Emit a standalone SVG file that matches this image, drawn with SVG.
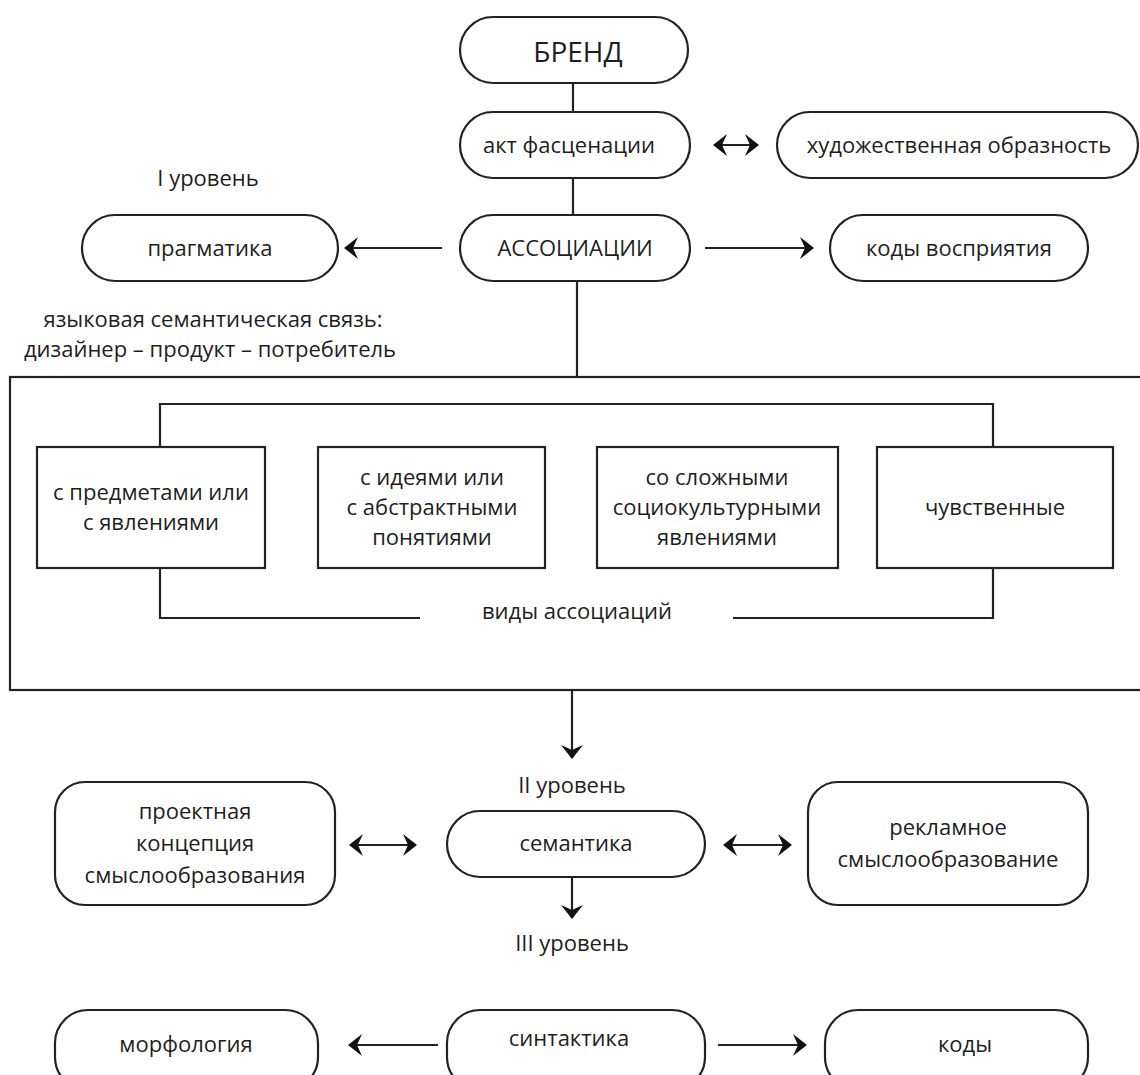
<svg xmlns="http://www.w3.org/2000/svg" width="1140" height="1075" viewBox="0 0 1140 1075">
<style>
.n{fill:#fff;stroke:#222;stroke-width:2.2}
.b{fill:none;stroke:#222;stroke-width:2.2}
.t{font-family:"Open Sans","Noto Sans",sans-serif;font-size:22px;fill:#1e1e1e;text-anchor:middle}
.l{fill:none;stroke:#222;stroke-width:2.2}
</style>
<defs>
<marker id="a" viewBox="0 0 14 22" refX="13" refY="11" markerWidth="14" markerHeight="22" markerUnits="userSpaceOnUse" orient="auto-start-reverse">
<path d="M0,0 L14,11 L0,22 L5,11 Z" fill="#111"/>
</marker>
</defs>
<rect width="1140" height="1075" fill="#fff"/>
<g id="association-types">
<rect class="b" x="10" y="377" width="1135" height="313"/>
<text class="t" x="577" y="619">виды ассоциаций</text>
</g>
<g id="connectors">
<line class="l" x1="573" y1="83" x2="573" y2="112"/>
<line class="l" x1="573" y1="178" x2="573" y2="215"/>
<line class="l" x1="577" y1="281" x2="577" y2="377"/>
<line class="l" x1="714" y1="145" x2="758" y2="145" marker-start="url(#a)" marker-end="url(#a)"/>
<line class="l" x1="442" y1="248" x2="345" y2="248" marker-end="url(#a)"/>
<line class="l" x1="705" y1="248" x2="813" y2="248" marker-end="url(#a)"/>
<polyline class="l" points="160,447 160,404 993,404 993,447"/>
<polyline class="l" points="420,618 160,618 160,568"/>
<polyline class="l" points="733,618 993,618 993,568"/>
<line class="l" x1="572" y1="690" x2="572" y2="758" marker-end="url(#a)"/>
<line class="l" x1="350" y1="845" x2="416" y2="845" marker-start="url(#a)" marker-end="url(#a)"/>
<line class="l" x1="724" y1="845" x2="791" y2="845" marker-start="url(#a)" marker-end="url(#a)"/>
<line class="l" x1="572" y1="877" x2="572" y2="918" marker-end="url(#a)"/>
<line class="l" x1="438" y1="1045" x2="349" y2="1045" marker-end="url(#a)"/>
<line class="l" x1="718" y1="1045" x2="806" y2="1045" marker-end="url(#a)"/>
</g>
<g id="brand"><rect class="n" x="460" y="17" width="228" height="66" rx="33"/><text class="t" x="578" y="62" style="font-size:28px">БРЕНД</text></g>
<g id="fascination"><rect class="n" x="460" y="112" width="230" height="66" rx="33"/><text class="t" x="569" y="153">акт фасценации</text></g>
<g id="imagery"><rect class="n" x="777" y="112" width="361" height="66" rx="33"/><text class="t" x="959" y="153">художественная образность</text></g>
<text class="t" x="208" y="186">I уровень</text>
<g id="pragmatics"><rect class="n" x="82" y="215" width="256" height="66" rx="33"/><text class="t" x="210" y="256">прагматика</text></g>
<g id="associations"><rect class="n" x="460" y="215" width="230" height="66" rx="33"/><text class="t" x="575" y="256">АССОЦИАЦИИ</text></g>
<g id="perception-codes"><rect class="n" x="830" y="215" width="258" height="66" rx="33"/><text class="t" x="959" y="256">коды восприятия</text></g>
<text class="t" x="213" y="327">языковая семантическая связь:</text>
<text class="t" x="210" y="357">дизайнер – продукт – потребитель</text>
<g id="objects"><rect class="n" x="37" y="447" width="228" height="121"/><text class="t" x="151" y="500">с предметами или</text><text class="t" x="151" y="530">с явлениями</text></g>
<g id="ideas"><rect class="n" x="318" y="447" width="227" height="121"/><text class="t" x="432" y="485">с идеями или</text><text class="t" x="432" y="515">с абстрактными</text><text class="t" x="432" y="545">понятиями</text></g>
<g id="sociocultural"><rect class="n" x="597" y="447" width="241" height="121"/><text class="t" x="717" y="485">со сложными</text><text class="t" x="717" y="515">социокультурными</text><text class="t" x="717" y="545">явлениями</text></g>
<g id="sensual"><rect class="n" x="877" y="447" width="236" height="121"/><text class="t" x="995" y="515">чувственные</text></g>
<text class="t" x="572" y="793">II уровень</text>
<g id="project-concept"><rect class="n" x="55" y="782" width="280" height="123" rx="30"/><text class="t" x="195" y="819">проектная</text><text class="t" x="195" y="851">концепция</text><text class="t" x="195" y="883">смыслообразования</text></g>
<g id="semantics"><rect class="n" x="447" y="811" width="258" height="66" rx="33"/><text class="t" x="576" y="851">семантика</text></g>
<g id="advertising"><rect class="n" x="808" y="782" width="280" height="123" rx="30"/><text class="t" x="948" y="835">рекламное</text><text class="t" x="948" y="867">смыслообразование</text></g>
<text class="t" x="572" y="951">III уровень</text>
<g id="morphology"><rect class="n" x="55" y="1010" width="263" height="80" rx="33"/><text class="t" x="186" y="1052">морфология</text></g>
<g id="syntactics"><rect class="n" x="447" y="1010" width="258" height="80" rx="33"/><text class="t" x="569" y="1046">синтактика</text></g>
<g id="codes"><rect class="n" x="825" y="1010" width="263" height="80" rx="33"/><text class="t" x="965" y="1052">коды</text></g>
</svg>
